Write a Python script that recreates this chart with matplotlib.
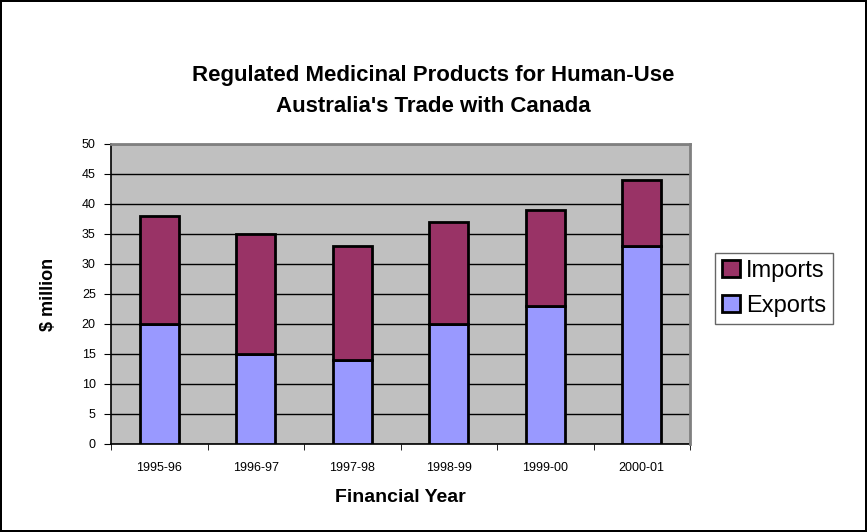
import matplotlib
matplotlib.use("Agg")
import matplotlib.pyplot as plt
import numpy as np

plt.rcParams['font.family'] = ['Liberation Sans', 'DejaVu Sans']

years = ['1995-96', '1996-97', '1997-98', '1998-99', '1999-00', '2000-01']
exports = [20, 15, 14, 20, 23, 33]
imports = [18, 20, 19, 17, 16, 11]

fig = plt.figure(figsize=(8.67, 5.32), dpi=100)
fig.patch.set_edgecolor('black')
fig.patch.set_linewidth(1.5)
ax = fig.add_axes([111/867, 1-444/532, (690-111)/867, 300/532])
ax.set_facecolor('#C0C0C0')

x = np.arange(len(years))
ax.bar(x, exports, width=0.4, color='#9999FF', edgecolor='black', linewidth=2, label='Exports', zorder=3)
ax.bar(x, imports, width=0.4, bottom=exports, color='#993366', edgecolor='black', linewidth=2, label='Imports', zorder=3)

ax.set_xlim(-0.5, len(years) - 0.5)
ax.set_ylim(0, 50)
ax.set_yticks(range(0, 51, 5))
ax.yaxis.grid(True, color='black', linewidth=1, zorder=0)
ax.set_axisbelow(True)
ax.set_xticks(x)
ax.set_xticklabels(years, fontsize=9)
ax.set_xticks(np.arange(-0.5, len(years)), minor=True)
ax.tick_params(axis='x', which='major', length=0, pad=13)
ax.tick_params(axis='x', which='minor', length=4, direction='out')
ax.tick_params(axis='y', labelsize=9, length=5, direction='out', pad=6)

for s in ['top', 'right']:
    ax.spines[s].set_color('#808080')
    ax.spines[s].set_linewidth(2)
    ax.spines[s].set_zorder(4)
ax.spines['left'].set_linewidth(1.2)
ax.spines['bottom'].set_linewidth(1.2)

ax.set_xlabel('Financial Year', fontsize=14, fontweight='bold', labelpad=11)
ax.set_ylabel('$ million', fontsize=13, fontweight='bold', labelpad=18)

fig.text(0.5, 1-75/532, 'Regulated Medicinal Products for Human-Use', ha='center', va='center',
         fontsize=16, fontweight='bold')
fig.text(0.5, 1-106/532, "Australia's Trade with Canada", ha='center', va='center',
         fontsize=16, fontweight='bold')

h, l = ax.get_legend_handles_labels()
leg = fig.legend(h[::-1], l[::-1], loc='upper left', bbox_to_anchor=(715/867, 1-253/532),
                 fontsize=17, frameon=True, fancybox=False, edgecolor='#404040',
                 handlelength=0.75, handleheight=0.75, handletextpad=0.25, borderpad=0.3,
                 labelspacing=0.55, borderaxespad=0)
leg.get_frame().set_linewidth(1)

fig.savefig('out.png', dpi=100)
